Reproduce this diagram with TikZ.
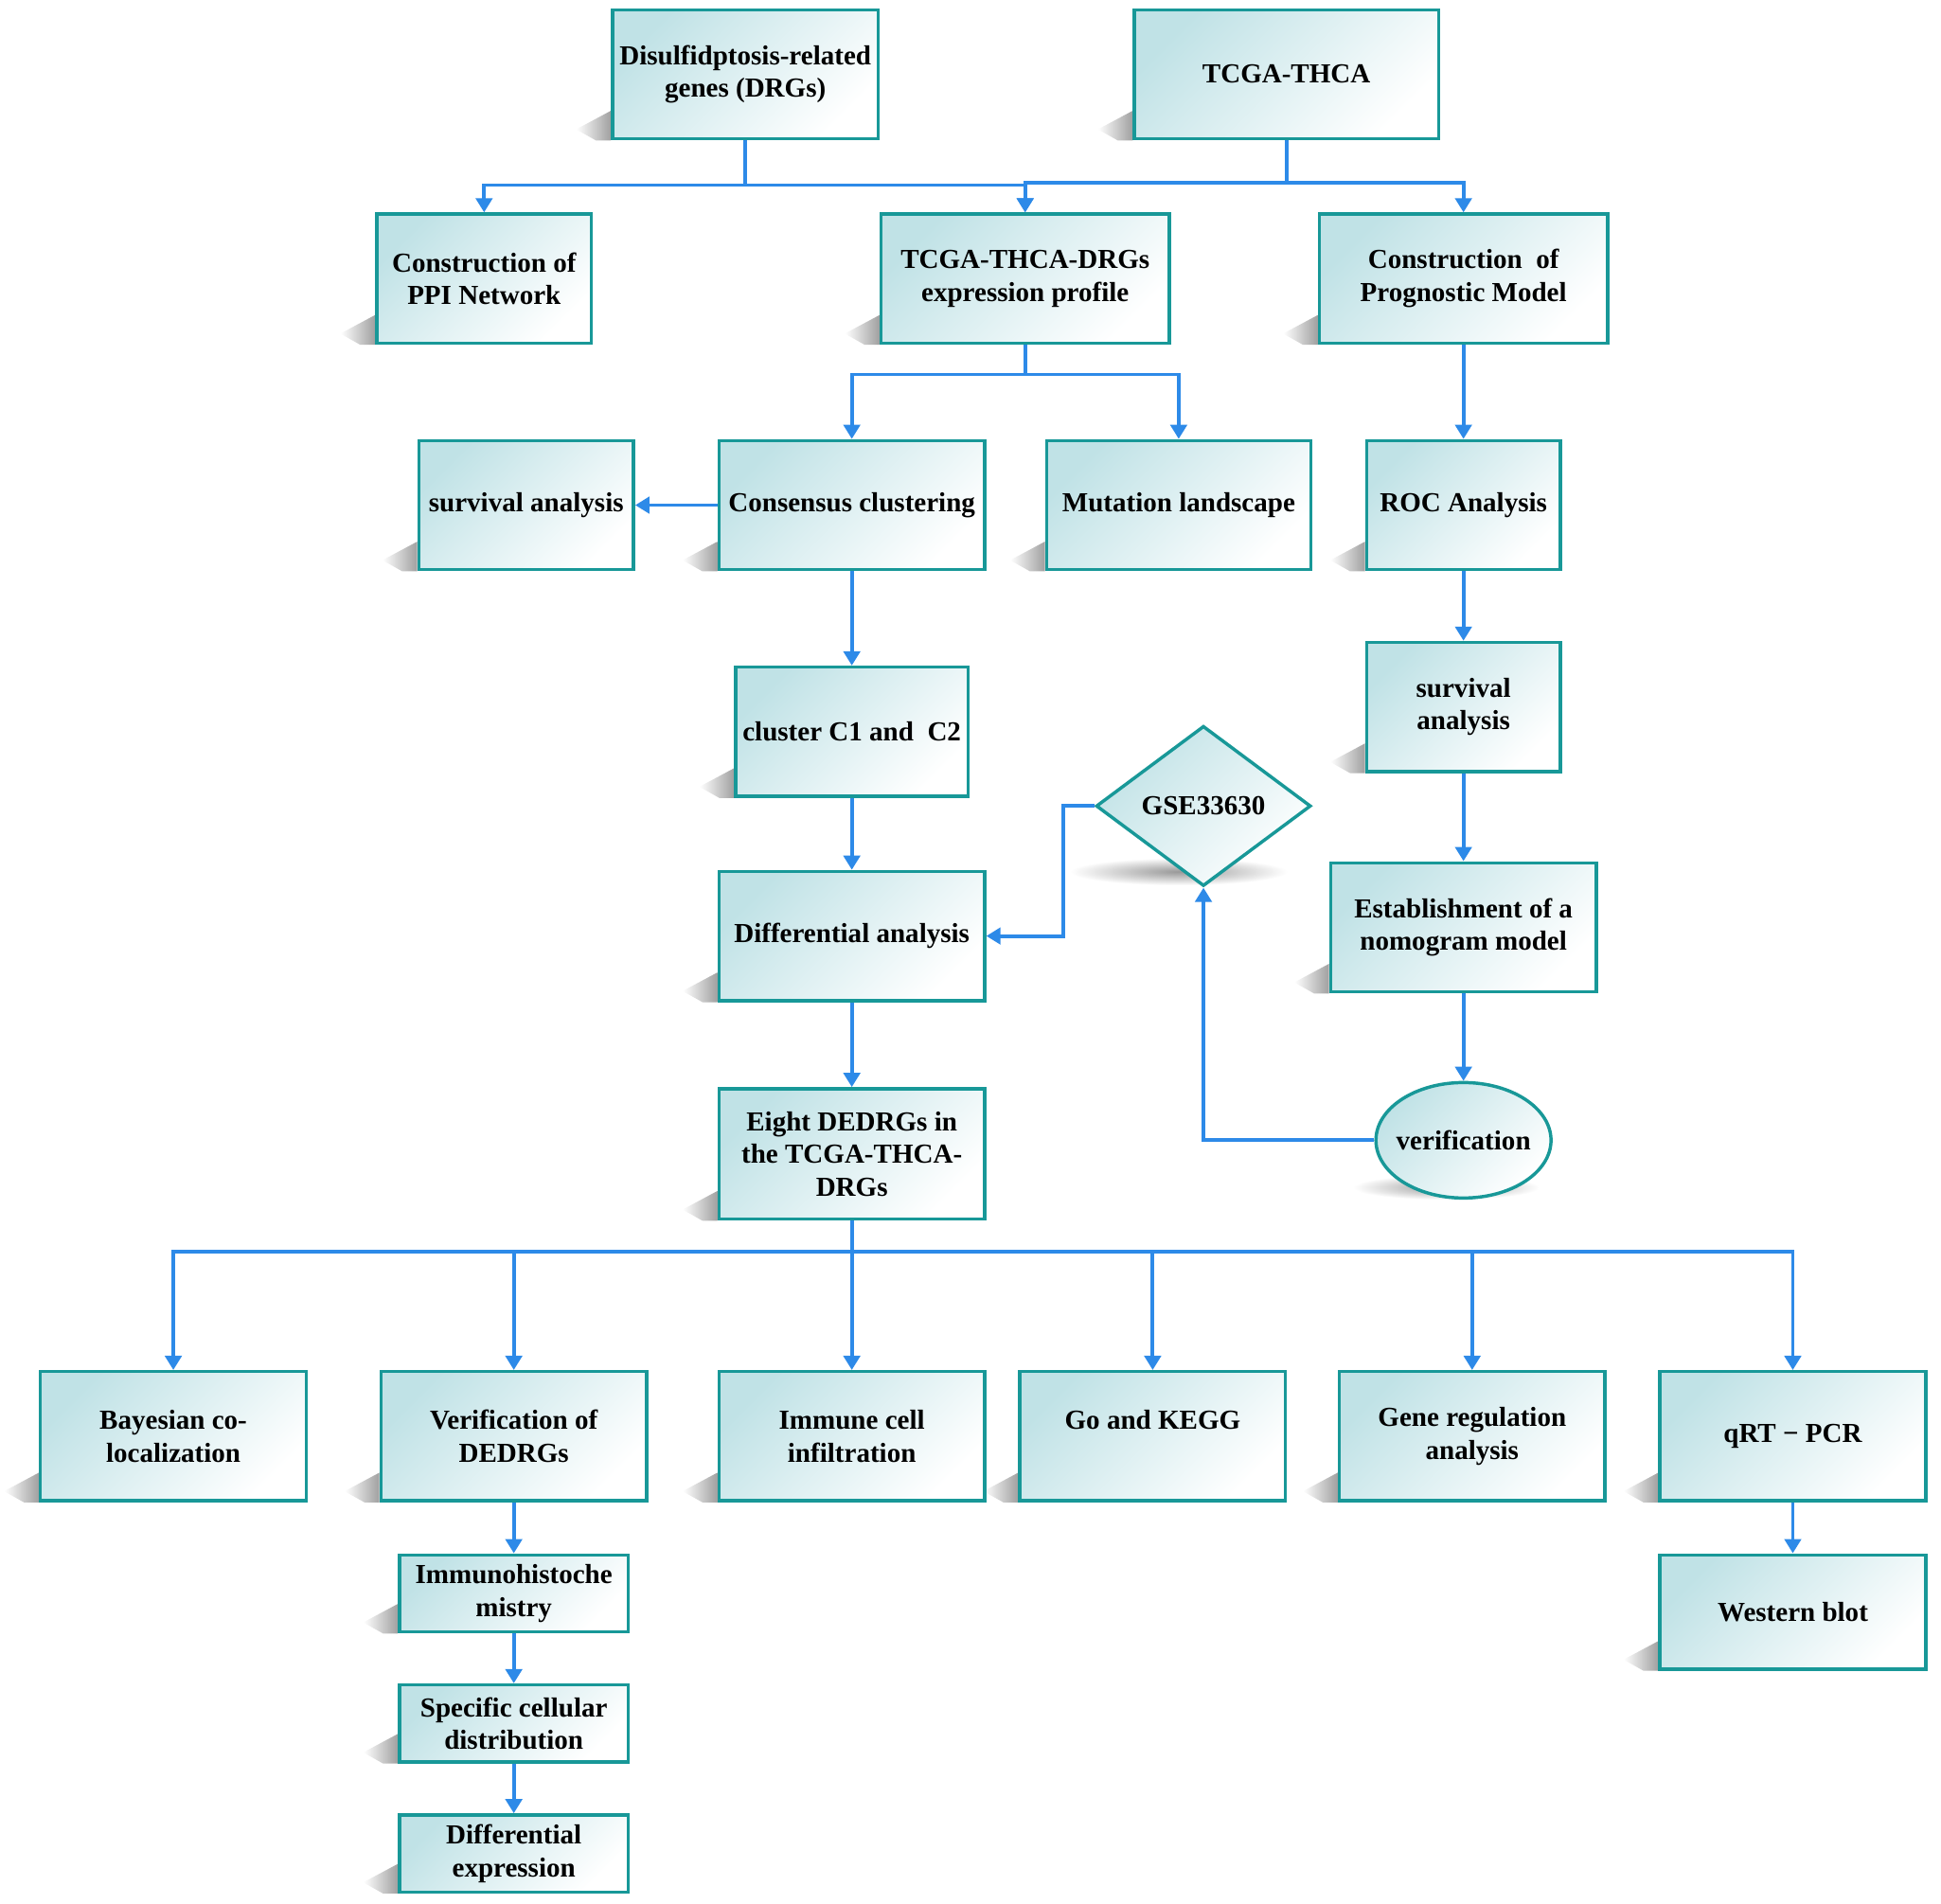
\documentclass[tikz,border=0pt]{standalone}
\usepackage{fontspec}
\setmainfont{Liberation Serif}
\usetikzlibrary{arrows.meta,shapes.geometric,backgrounds,calc}
\definecolor{bord}{RGB}{24,152,152}
\definecolor{fillc}{RGB}{192,226,230}
\definecolor{arrc}{RGB}{45,138,232}
\begin{document}
\begin{tikzpicture}[x=0.01994cm,y=-0.01994cm,
  txt/.style={font=\bfseries\fontsize{12.6}{15}\selectfont, align=center},
  shadefill/.style={draw=bord, line width=1.5pt, top color=fillc, bottom color=white, shading angle=45},
  box/.style={shadefill, txt, inner sep=2pt, minimum height=2.08cm},
  small/.style={box, minimum width=3.68cm, minimum height=1.24cm},
  dia/.style={shadefill, txt, shape=diamond, minimum width=3.46cm, minimum height=2.58cm, inner sep=0pt},
  ell/.style={shadefill, txt, shape=ellipse, minimum width=2.82cm, minimum height=1.86cm, inner sep=0pt},
  ln/.style={draw=arrc, line width=1.7pt},
  arr/.style={ln, -{Triangle[length=6.5pt,width=7.5pt]}}]
\useasboundingbox (0,0) rectangle (1567.7,1537.6);

% nodes
\node[box, minimum width=4.28cm]  (drg)  at (602,60)  {Disulfidptosis-related\\genes (DRGs)};
\node[box, minimum width=4.9cm] (tcga) at (1039,60) {TCGA-THCA};
\node[box, minimum width=3.46cm] (ppi)  at (391,225) {Construction of\\PPI Network};
\node[box, minimum width=4.64cm] (expr) at (828,225) {TCGA-THCA-DRGs\\expression profile};
\node[box, minimum width=4.64cm] (prog) at (1182,225) {Construction~ of\\Prognostic Model};
\node[box, minimum width=3.46cm] (survl) at (425,408) {survival analysis};
\node[box, minimum width=4.28cm]  (cons) at (688,408) {Consensus clustering};
\node[box, minimum width=4.26cm] (mut)  at (952,408) {Mutation landscape};
\node[box, minimum width=3.12cm] (roc)  at (1182,408) {ROC Analysis};
\node[box, minimum width=3.74cm] (clus) at (688,591) {cluster C1 and~ C2};
\node[box, minimum width=3.12cm] (survr) at (1182,571) {survival\\analysis};
\node[dia] (gse) at (972,651) {\makebox[0pt]{GSE33630}};
\node[box, minimum width=4.28cm]  (diff) at (688,756) {Differential analysis};
\node[box, minimum width=4.28cm]  (nomo) at (1182,749) {Establishment of a\\nomogram model};
\node[ell] (ver) at (1182,921) {\makebox[0pt]{verification}};
\node[box, minimum width=4.28cm, minimum height=2.1cm] (eight) at (688,932) {Eight DEDRGs in\\the TCGA-THCA-\\DRGs};
\node[box, minimum width=4.28cm] (bay)  at (140,1160) {Bayesian co-\\localization};
\node[box, minimum width=4.28cm] (vded) at (415,1160) {Verification of\\DEDRGs};
\node[box, minimum width=4.28cm] (imm)  at (688,1160) {Immune cell\\infiltration};
\node[box, minimum width=4.28cm] (go)   at (931,1160) {Go and KEGG\\\mbox{}};
\node[box, minimum width=4.28cm] (gene) at (1189,1160) {Gene regulation\\analysis};
\node[box, minimum width=4.28cm] (qrt)  at (1448,1160) {qRT − PCR};
\node[small] (ihc)  at (415,1287) {Immunohistoche\\mistry};
\node[small] (spec) at (415,1392) {Specific cellular\\distribution};
\node[small] (dexp) at (415,1497) {Differential\\expression};
\node[box, minimum width=4.28cm, minimum height=1.84cm] (wb) at (1448,1302) {Western blot};

% connectors
\draw[ln] (drg.south) -- ++(0,36) coordinate (j1);
\draw[arr] (j1) -| (ppi.north);
\draw[arr] (j1) -| (expr.north);
\draw[ln] (tcga.south) -- ++(0,34) coordinate (j2);
\draw[arr] (j2) -| (expr.north);
\draw[arr] (j2) -| (prog.north);
\draw[ln] (expr.south) -- ++(0,24) coordinate (j3);
\draw[arr] (j3) -| (cons.north);
\draw[arr] (j3) -| (mut.north);
\draw[arr] (cons.west) -- (survl.east);
\draw[arr] (cons.south) -- (clus.north);
\draw[arr] (clus.south) -- (diff.north);
\draw[arr] (diff.south) -- (eight.north);
\draw[arr] (prog.south) -- (roc.north);
\draw[arr] (roc.south) -- (survr.north);
\draw[arr] (survr.south) -- (nomo.north);
\draw[arr] (nomo.south) -- (ver.north);
\draw[arr] (ver.west) -| (gse.south);
\draw[arr] (gse.west) -- ++(-25,0) |- (diff.east);
\draw[ln] (eight.south) -- ++(0,25) coordinate (j4);
\foreach \n in {bay,vded,imm,go,gene,qrt} \draw[arr] (j4) -| (\n.north);
\draw[arr] (vded.south) -- (ihc.north);
\draw[arr] (ihc.south) -- (spec.north);
\draw[arr] (spec.south) -- (dexp.north);
\draw[arr] (qrt.south) -- (wb.north);

% shadows
\begin{scope}[on background layer]
\fill[white] (0,0) rectangle (1567.7,1537.6);
\foreach \n in {drg,tcga,ppi,expr,prog,survl,cons,mut,roc,clus,survr,diff,nomo,eight,bay,vded,imm,go,gene,qrt,ihc,spec,dexp,wb}
  \shade[left color=white, right color=gray!75]
    ($(\n.south west)+(-28,-9)$) -- ($(\n.south west)+(0,-24)$) -- ($(\n.south west)+(0,0)$) -- ($(\n.south west)+(-12,0)$) -- cycle;
\shade[inner color=gray!80, outer color=white] ($(gse.south)+(-20,-13)$) ellipse [x radius=1.75cm, y radius=0.22cm];
\shade[inner color=gray!80, outer color=white] ($(ver.south)+(-14,-10)$) ellipse [x radius=1.5cm, y radius=0.2cm];
\end{scope}
\end{tikzpicture}
\end{document}
